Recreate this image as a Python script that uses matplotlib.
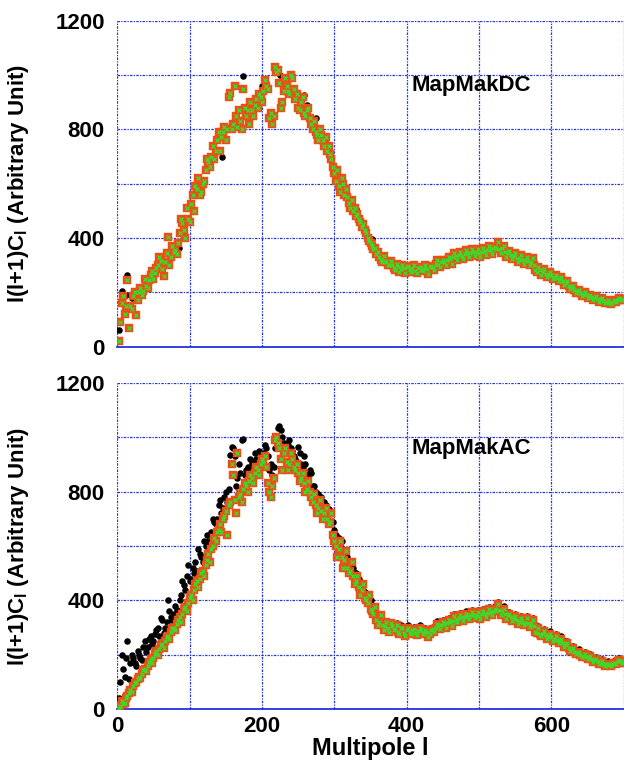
import numpy as np
import matplotlib
matplotlib.use('Agg')
import matplotlib.pyplot as plt

plt.rcParams['font.family'] = ['Liberation Sans', 'DejaVu Sans']
plt.rcParams['font.weight'] = 'bold'
plt.rcParams['mathtext.fontset'] = 'custom'
plt.rcParams['mathtext.rm'] = 'Liberation Sans:bold'
plt.rcParams['mathtext.it'] = 'Liberation Sans:bold'
plt.rcParams['mathtext.bf'] = 'Liberation Sans:bold'

# multipoles: two interleaved samplings (2,6,10,... and 4,8,12,...)
ell_a = np.arange(2, 701, 4)
ell_b = np.arange(4, 701, 4)

# MapMakDC (top panel)
dc_red_a = [20, 160, 120, 245, 150, 185, 115, 200, 190, 250,
            215, 265, 250, 290, 330, 285, 310, 405, 330, 350,
            340, 420, 455, 400, 470, 525, 500, 580, 560, 600,
            650, 680, 700, 690, 760, 720, 790, 760, 920, 800,
            960, 810, 830, 950, 850, 820, 870, 890, 880, 920,
            940, 960, 840, 820, 1030, 1020, 880, 940, 960, 930,
            990, 910, 880, 900, 860, 870, 840, 800, 790, 760,
            780, 740, 720, 710, 660, 610, 590, 620, 560, 550,
            510, 500, 480, 470, 440, 430, 400, 380, 360, 340,
            330, 310, 315, 300, 315, 288, 305, 275, 300, 272,
            298, 276, 302, 270, 295, 278, 300, 268, 296, 282,
            318, 292, 320, 300, 330, 305, 345, 318, 348, 322,
            355, 330, 360, 334, 358, 330, 365, 338, 370, 342,
            368, 385, 345, 372, 330, 352, 322, 345, 310, 338,
            305, 330, 300, 325, 282, 295, 265, 285, 255, 275,
            248, 265, 240, 258, 228, 240, 212, 222, 198, 210,
            188, 200, 180, 192, 172, 185, 166, 178, 160, 170,
            156, 168, 165, 180, 170]
dc_red_b = [90, 185, 150, 70, 140, 200, 170, 215, 205, 225,
            245, 280, 270, 300, 315, 260, 345, 300, 370, 355,
            380, 470, 430, 510, 460, 560, 590, 620, 570, 610,
            690, 660, 740, 720, 790, 770, 810, 800, 935, 820,
            850, 870, 800, 880, 870, 900, 850, 910, 930, 900,
            980, 950, 860, 850, 1010, 970, 900, 990, 940, 1000,
            950, 930, 870, 920, 850, 880, 820, 830, 780, 800,
            760, 770, 740, 690, 640, 650, 570, 600, 580, 530,
            540, 510, 490, 460, 450, 420, 390, 370, 365, 350,
            320, 335, 310, 300, 300, 282, 295, 285, 290, 295,
            285, 290, 278, 288, 282, 290, 285, 292, 295, 305,
            300, 312, 310, 318, 322, 330, 332, 338, 335, 342,
            345, 345, 348, 350, 345, 350, 352, 355, 355, 365,
            358, 360, 362, 350, 345, 338, 335, 325, 322, 320,
            318, 315, 312, 300, 275, 282, 276, 268, 265, 262,
            258, 252, 248, 242, 235, 225, 218, 210, 204, 198,
            194, 190, 186, 183, 180, 176, 174, 168, 165, 162,
            164, 170, 172, 176, 170]
dc_black_ell = [3, 4, 6, 12, 13, 20, 40, 85, 145, 174, 200, 225, 240, 258, 262, 274, 290, 330, 352]
dc_black_val = [62, 93, 204, 191, 265, 180, 253, 364, 700, 996, 960, 1000, 990, 925, 890, 840, 745, 505, 395]

# MapMakAC (bottom panel)
ac_red_a = [5, 30, 25, 50, 70, 85, 100, 120, 130, 150,
            160, 185, 190, 215, 220, 240, 250, 270, 285, 300,
            315, 340, 350, 375, 390, 420, 440, 470, 480, 510,
            530, 570, 590, 630, 650, 680, 700, 730, 750, 900,
            770, 940, 790, 810, 820, 840, 850, 870, 880, 900,
            910, 890, 800, 820, 990, 980, 920, 940, 910, 900,
            920, 880, 870, 850, 830, 810, 800, 760, 750, 740,
            730, 720, 700, 690, 640, 600, 590, 560, 550, 520,
            510, 490, 470, 450, 440, 410, 390, 370, 350, 330,
            320, 310, 305, 300, 318, 290, 308, 278, 298, 270,
            300, 278, 296, 272, 300, 276, 292, 266, 290, 284,
            315, 294, 322, 298, 328, 306, 342, 320, 346, 325,
            352, 332, 358, 336, 356, 332, 362, 340, 368, 345,
            370, 388, 348, 370, 332, 350, 325, 342, 312, 336,
            308, 334, 302, 328, 285, 298, 268, 288, 260, 278,
            252, 268, 244, 260, 230, 242, 215, 225, 202, 212,
            192, 204, 184, 195, 175, 186, 166, 176, 160, 168,
            158, 170, 168, 182, 172]
ac_red_b = [12, 20, 40, 60, 65, 95, 110, 115, 145, 140,
            175, 170, 205, 200, 235, 225, 265, 260, 300, 290,
            330, 320, 370, 360, 410, 400, 460, 450, 500, 490,
            550, 540, 600, 620, 660, 650, 710, 640, 760, 860,
            720, 780, 760, 830, 800, 860, 830, 890, 860, 920,
            930, 830, 780, 850, 1000, 960, 880, 960, 880, 940,
            890, 900, 840, 870, 800, 840, 780, 790, 720, 770,
            700, 740, 680, 720, 620, 560, 620, 520, 580, 500,
            540, 460, 490, 420, 460, 400, 420, 360, 375, 310,
            345, 290, 320, 285, 305, 296, 285, 300, 282, 290,
            285, 292, 280, 286, 290, 282, 285, 275, 295, 300,
            305, 310, 315, 318, 320, 326, 332, 335, 338, 340,
            342, 345, 346, 348, 344, 350, 352, 355, 358, 360,
            362, 365, 360, 352, 345, 338, 332, 328, 322, 320,
            318, 318, 315, 305, 280, 278, 275, 272, 270, 264,
            260, 256, 252, 245, 236, 226, 220, 212, 206, 200,
            196, 192, 188, 184, 180, 176, 172, 168, 166, 164,
            166, 172, 176, 178, 172]
ac_black_a = [40, 200, 120, 250, 170, 190, 160, 200, 180, 250,
              230, 270, 250, 290, 270, 330, 300, 400, 340, 350,
              365, 400, 470, 440, 530, 480, 500, 510, 570, 540,
              600, 620, 650, 690, 700, 770, 740, 800, 810, 965,
              930, 850, 870, 995, 880, 870, 905, 940, 910, 930,
              940, 960, 880, 860, 960, 1035, 1025, 980, 960, 990,
              950, 920, 965, 900, 930, 860, 880, 820, 800, 790,
              780, 760, 740, 730, 690, 640, 630, 620, 580, 560,
              540, 520, 500, 480, 460, 430, 410, 400, 370, 355,
              345, 330, 325, 315, 310, 298, 316, 286, 306, 278,
              308, 286, 304, 280, 308, 284, 300, 274, 298, 292,
              323, 302, 330, 306, 336, 314, 350, 328, 354, 333,
              360, 340, 366, 344, 364, 340, 370, 348, 376, 353,
              378, 396, 356, 378, 340, 358, 333, 350, 320, 344,
              316, 342, 310, 336, 293, 306, 276, 296, 268, 286,
              260, 276, 252, 268, 238, 250, 223, 233, 210, 220,
              200, 212, 192, 203, 183, 194, 174, 184, 168, 176,
              166, 178, 176, 190, 180]
ac_black_b = [100, 150, 190, 110, 200, 170, 215, 190, 230, 210,
              260, 240, 275, 300, 335, 280, 320, 360, 330, 380,
              350, 420, 455, 490, 470, 520, 540, 590, 560, 620,
              640, 600, 700, 680, 750, 720, 780, 760, 935, 960,
              820, 900, 990, 860, 890, 920, 880, 920, 950, 900,
              970, 930, 900, 890, 1000, 1040, 1000, 950, 970, 960,
              930, 910, 940, 890, 900, 850, 870, 820, 790, 780,
              760, 750, 735, 720, 660, 610, 600, 570, 560, 530,
              520, 500, 470, 450, 440, 410, 390, 385, 360, 340,
              335, 320, 310, 300, 313, 304, 293, 308, 290, 298,
              293, 300, 288, 294, 298, 290, 293, 283, 303, 308,
              313, 318, 323, 326, 328, 334, 340, 343, 346, 348,
              350, 353, 354, 356, 352, 358, 360, 363, 366, 368,
              370, 373, 368, 360, 353, 346, 340, 336, 330, 328,
              326, 326, 323, 313, 288, 286, 283, 280, 278, 272,
              268, 264, 260, 253, 244, 234, 228, 220, 214, 208,
              204, 200, 196, 192, 188, 184, 180, 176, 174, 172,
              174, 180, 184, 186, 180]

xticks = [0, 200, 400, 600]
yticks = [0, 400, 800, 1200]

grid_col = '#2233dd'
red_col = '#ec4e16'
green_col = '#3fd82a'

fig = plt.figure(figsize=(6.24, 7.69), dpi=100)
ax1 = fig.add_axes([0.188, 0.5492, 0.8115, 0.4239])
ax2 = fig.add_axes([0.188, 0.0776, 0.8115, 0.4247])


def panel(ax, black_x, black_y, red_y, name, show_x):
    ell = np.concatenate([ell_a, ell_b])
    ax.set_xlim(0, 700)
    ax.set_ylim(0, 1200)
    for v in range(0, 701, 100):
        ax.axvline(v, color=grid_col, lw=0.9, ls=(0, (2, 1, 1, 1)), zorder=0)
    for v in range(0, 1201, 200):
        ax.axhline(v, color=grid_col, lw=0.9, ls=(0, (2, 1, 1, 1)), zorder=0)
    for s in ['top', 'right', 'left']:
        ax.spines[s].set_visible(False)
    ax.spines['bottom'].set_color(grid_col)
    ax.spines['bottom'].set_linewidth(1.3)

    ax.plot(black_x, black_y, 'o', color='black', ms=4.7, mew=0, zorder=2)
    ax.plot(ell, red_y, 's', mfc=red_col, mec=red_col, mew=0.3, ms=5.1, zorder=3)
    ax.plot(ell, red_y, 'x', color=green_col, ms=3.3, mew=1.0, zorder=4)

    ax.set_yticks(yticks)
    ax.set_yticklabels([str(t) for t in yticks], fontsize=16, fontweight='bold')
    ax.tick_params(axis='both', length=0, pad=9)
    ax.set_xticks(xticks)
    if show_x:
        ax.set_xticklabels([str(t) for t in xticks], fontsize=16, fontweight='bold')
        ax.tick_params(axis='x', pad=5)
        ax.set_xlabel('Multipole l', fontsize=17, fontweight='bold', labelpad=0)
    else:
        ax.set_xticklabels([])
    ax.set_ylabel(r'l(l+1)C$_{\rm l}$ (Arbitrary Unit)', fontsize=16,
                  fontweight='bold', labelpad=6)
    ax.yaxis.set_label_coords(-0.17, 0.5)
    ax.text(407, 960, name, fontsize=16, fontweight='bold', va='center', ha='left')


panel(ax1, dc_black_ell, dc_black_val, dc_red_a + dc_red_b, 'MapMakDC', False)
panel(ax2, np.concatenate([ell_a, ell_b]), ac_black_a + ac_black_b,
      ac_red_a + ac_red_b, 'MapMakAC', True)

fig.savefig('out.png', dpi=100)
